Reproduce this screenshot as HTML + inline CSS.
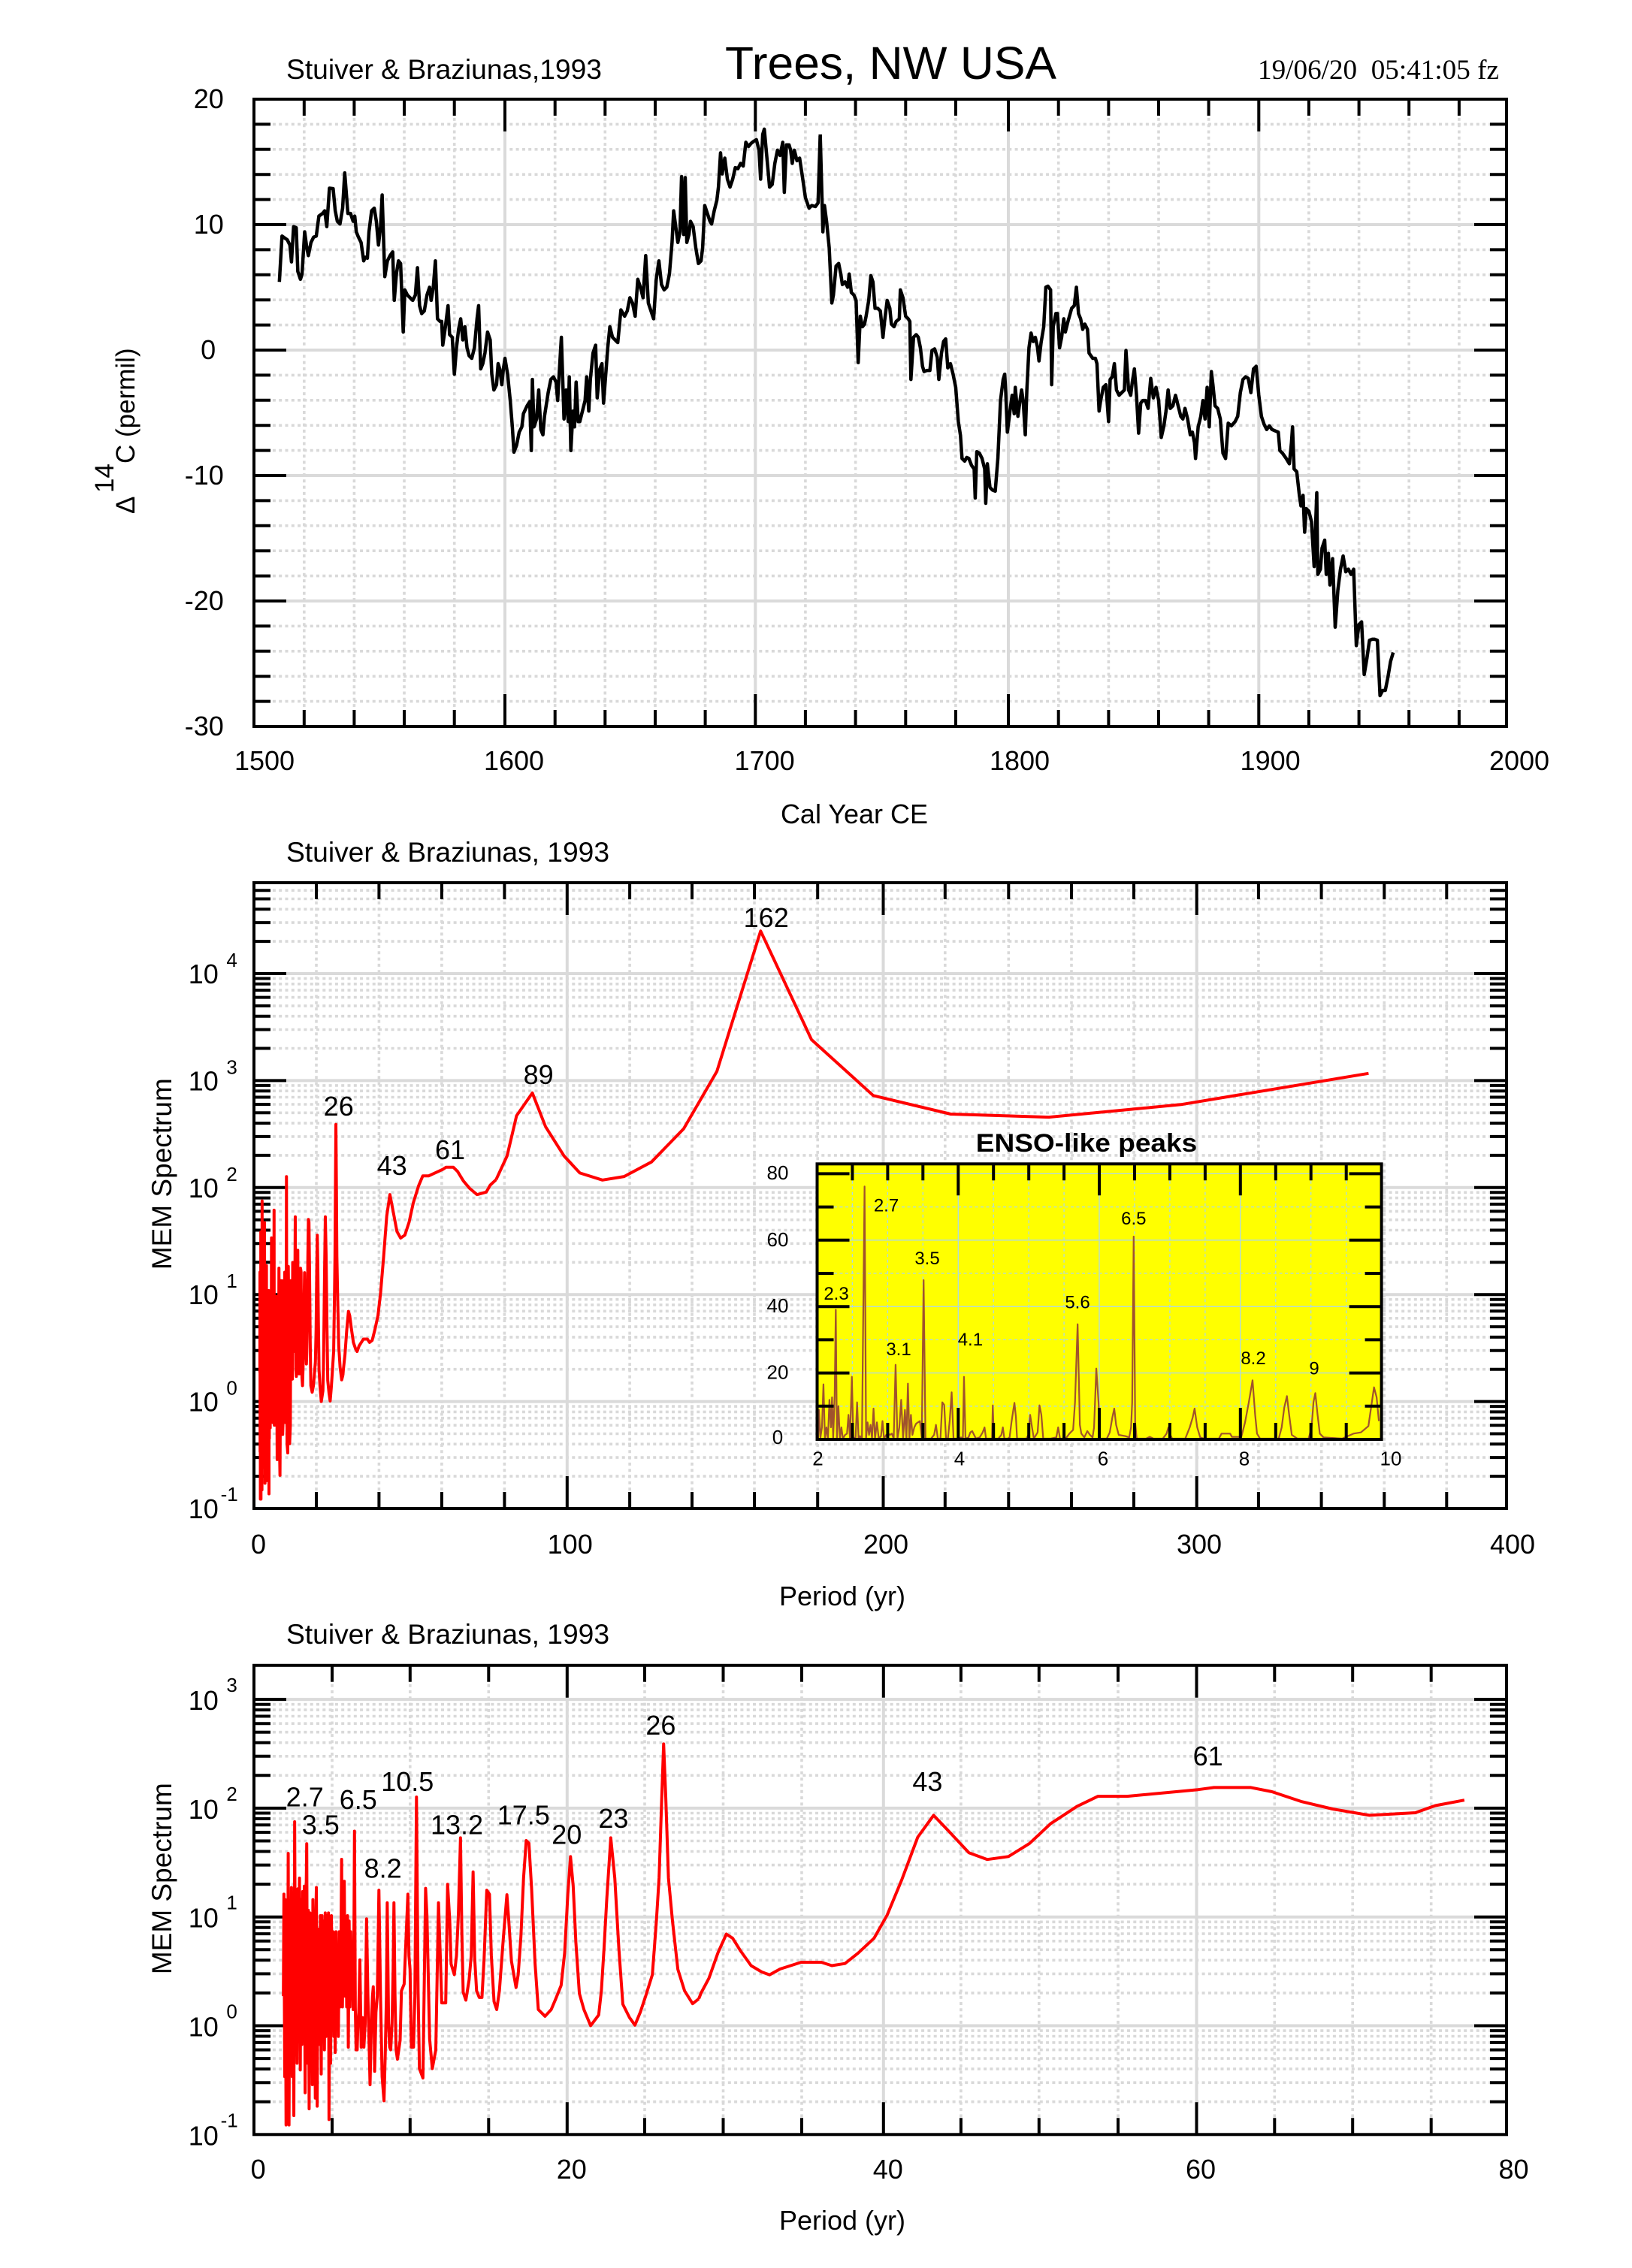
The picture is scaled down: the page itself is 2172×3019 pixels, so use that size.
<!DOCTYPE html>
<html><head><meta charset="utf-8"><style>html,body{margin:0;padding:0;background:#fff;overflow:hidden}svg{display:block}</style></head>
<body>
<svg xmlns="http://www.w3.org/2000/svg" width="2172" height="3019" viewBox="0 0 2172 3019" font-family="'Liberation Sans', Arial, sans-serif">
<rect width="2172" height="3019" fill="#fff"/>
<defs>
<clipPath id="cM"><rect x="338" y="1175" width="1667" height="833"/></clipPath>
<clipPath id="cB"><rect x="338" y="2216.8" width="1667" height="624.5"/></clipPath>
<clipPath id="cI"><rect x="1087.5" y="1549.3" width="751.1" height="366.7"/></clipPath>
</defs>

<!-- ================= TOP PANEL ================= -->
<g fill="none" stroke="#d9d9d9" stroke-width="3.6" stroke-dasharray="4 4.3">
<path d="M404.8 132V967M471.4 132V967M538 132V967M604.7 132V967M738.7 132V967M805.3 132V967M872 132V967M938.6 132V967M1071.9 132V967M1138.6 132V967M1205.3 132V967M1271.9 132V967M1408.7 132V967M1475.4 132V967M1542 132V967M1608.6 132V967M1741.9 132V967M1808.6 132V967M1875.2 132V967M1941.9 132V967"/>
<path d="M338 165.4H2005M338 198.8H2005M338 232.2H2005M338 265.6H2005M338 332.4H2005M338 365.8H2005M338 399.2H2005M338 432.6H2005M338 499.4H2005M338 532.8H2005M338 566.2H2005M338 599.6H2005M338 666.4H2005M338 699.8H2005M338 733.2H2005M338 766.6H2005M338 833.4H2005M338 866.8H2005M338 900.2H2005M338 933.6H2005"/>
</g>
<path fill="none" stroke="#dadada" stroke-width="4" d="M672 132V967M1005.3 132V967M1342 132V967M1675.3 132V967M338 299H2005M338 466H2005M338 633H2005M338 800H2005"/>
<path fill="none" stroke="#000" stroke-width="4" d="M404.8 967v-22M471.4 967v-22M538 967v-22M604.7 967v-22M738.7 967v-22M805.3 967v-22M872 967v-22M938.6 967v-22M1071.9 967v-22M1138.6 967v-22M1205.3 967v-22M1271.9 967v-22M1408.7 967v-22M1475.4 967v-22M1542 967v-22M1608.6 967v-22M1741.9 967v-22M1808.6 967v-22M1875.2 967v-22M1941.9 967v-22
M404.8 132v22M471.4 132v22M538 132v22M604.7 132v22M738.7 132v22M805.3 132v22M872 132v22M938.6 132v22M1071.9 132v22M1138.6 132v22M1205.3 132v22M1271.9 132v22M1408.7 132v22M1475.4 132v22M1542 132v22M1608.6 132v22M1741.9 132v22M1808.6 132v22M1875.2 132v22M1941.9 132v22
M672 967v-43M1005.3 967v-43M1342 967v-43M1675.3 967v-43M672 132v43M1005.3 132v43M1342 132v43M1675.3 132v43
M338 299h43M338 466h43M338 633h43M338 800h43M2005 299h-43M2005 466h-43M2005 633h-43M2005 800h-43
M338 165.4h22M338 198.8h22M338 232.2h22M338 265.6h22M338 332.4h22M338 365.8h22M338 399.2h22M338 432.6h22M338 499.4h22M338 532.8h22M338 566.2h22M338 599.6h22M338 666.4h22M338 699.8h22M338 733.2h22M338 766.6h22M338 833.4h22M338 866.8h22M338 900.2h22M338 933.6h22
M2005 165.4h-22M2005 198.8h-22M2005 232.2h-22M2005 265.6h-22M2005 332.4h-22M2005 365.8h-22M2005 399.2h-22M2005 432.6h-22M2005 499.4h-22M2005 532.8h-22M2005 566.2h-22M2005 599.6h-22M2005 666.4h-22M2005 699.8h-22M2005 733.2h-22M2005 766.6h-22M2005 833.4h-22M2005 866.8h-22M2005 900.2h-22M2005 933.6h-22"/>

<!-- top curve -->
<g fill="none" stroke="#000" stroke-width="4.5" stroke-linejoin="round">
<polyline vector-effect="non-scaling-stroke" transform="scale(0.70151)" points="530,535 535,448 545,455 550,465 553,497 557,430 562,432 565,515 570,530 573,520 578,440 582,470 585,485 590,460 595,450 600,448 605,410 612,405 616,400 620,430 625,357 632,358 636,400 640,420 645,425 650,395 654,328 660,405 665,405 670,420 673,410 676,440 680,450 685,460 690,495 693,488 697,490 700,440 705,400 710,395 714,420 718,465 722,430 725,370 730,525 735,495 740,485 745,478 748,570 752,520 756,495 760,500 765,630 768,550 773,560 778,565 783,570 788,560 792,508 796,580 800,595 805,590 810,560 815,545 818,570 822,545 826,495 830,605 835,610 838,610 840,655 845,620 850,580 853,635 858,640 862,710 866,660 870,625 874,605 878,645 882,620 886,660 890,675 895,680 900,660 905,605 908,580 912,700 916,690 920,670 925,630 930,645 933,710 937,740 942,730 945,690 948,700 952,730 955,700 958,680 963,710 968,760 972,810 975,858 980,845 985,820 990,810 993,785 1000,770 1005,762 1008,855 1010,720 1013,810 1018,795 1022,740 1026,815 1030,825 1033,790 1040,745 1045,720 1050,715 1055,725 1058,760 1062,690 1065,640 1070,795 1074,740 1078,800 1080,715 1083,855 1087,780 1090,810 1093,725 1097,800 1100,800 1105,780 1110,760 1113,715 1117,780 1120,720 1125,670 1130,655 1133,755 1138,700 1142,690 1145,765 1150,700 1153,660 1157,620 1162,640 1167,645 1172,650 1178,588 1185,600 1190,590 1195,565 1200,575 1205,600 1210,530 1215,545 1220,565 1225,485 1230,575 1235,590 1240,605 1245,530 1250,495 1255,540 1260,550 1265,545 1270,520 1275,460 1278,400 1282,430 1286,460 1290,440 1293,335 1297,445 1300,337 1303,460 1307,445 1310,420 1315,430 1320,470 1325,500 1330,495 1333,470 1337,390 1342,405 1347,420 1350,425 1355,400 1360,380 1363,355 1367,290 1370,330 1375,300 1380,340 1385,355 1390,340 1395,318 1400,320 1405,310 1410,315 1415,270 1420,278 1425,272 1430,268 1435,265 1440,285 1443,340 1447,255 1450,245 1455,300 1460,355 1465,350 1470,310 1475,285 1480,295 1485,270 1488,365 1492,275 1497,275 1500,285 1503,310 1507,285 1512,305 1517,300 1523,340 1528,375 1535,395 1540,390 1547,392 1552,385 1556,258"/>
<polyline vector-effect="non-scaling-stroke" transform="translate(1072 0) scale(0.70151)" points="28,255 33,440 36,390 40,420 45,470 50,575 53,560 58,505 63,500 67,520 70,540 75,535 80,545 83,520 87,555 92,560 96,570 100,688 104,600 108,620 112,615 115,600 120,570 124,523 128,535 132,585 137,585 142,590 147,640 150,610 155,570 160,585 163,615 168,620 172,610 178,605 180,550 185,565 190,600 195,605 198,610 200,720 205,640 210,635 214,640 218,660 222,695 225,705 230,703 236,703 240,665 245,662 250,678 253,720 258,670 262,648 266,643 270,698 275,690 280,710 285,735 290,800 294,826 297,870 302,875 306,868 310,870 315,883 320,890 322,945 325,857 330,860 335,870 340,890 342,955 345,880 350,925 355,930 360,932 365,870 370,760 375,720 378,710 380,745 383,820 388,780 392,750 396,785 398,735 403,790 407,760 410,740 413,760 417,825 420,740 424,660 428,632 432,648 436,640 440,658 443,685 447,650 452,620 456,545 460,543 465,550 467,730 470,620 475,595 478,595 482,660 486,640 490,605 493,630 498,610 505,585 510,580 514,545 518,595 522,605 526,625 530,615 535,625 538,670 545,680 550,680 553,690 557,780 560,760 565,735 570,730 575,800 578,720 582,715 586,690 590,740 595,750 600,745 605,740 608,665 613,740 617,750 620,725 624,700 628,750 632,822 636,765 640,760 645,760 650,775 655,718 660,755 665,735 670,760 675,830 680,808 684,780 688,740 692,775 697,770 702,750 707,770 712,790 716,795 720,775 725,795 730,825 734,820 738,840 740,870 745,810 750,790 754,760 758,795 762,735 766,810 770,705 773,730 777,770 782,775 787,795 792,860 797,870 802,803 808,808 815,800 820,790 825,745 830,720 835,715 840,718 845,745 850,700 855,695 860,750 865,790 870,805 875,815 880,808 885,815 892,818 897,820 900,855 905,860 912,870 918,880 922,840 924,810 927,890 932,895 937,940 940,960 944,940 947,1010 950,965 955,970 960,990 965,1075 970,935 972,1090 977,1080 980,1040 985,1025 988,1090 992,1050 995,1110 1000,1060 1005,1190 1010,1120 1015,1080 1020,1055 1025,1085 1030,1080 1035,1090 1040,1080 1045,1225 1050,1185 1055,1180 1060,1280 1065,1250 1070,1215 1075,1213 1080,1213 1085,1215 1090,1320 1095,1310 1100,1310 1105,1285 1110,1255 1115,1238"/>
</g>
<rect x="338" y="132" width="1667" height="835" fill="none" stroke="#000" stroke-width="4"/>

<g font-size="36" fill="#000">
<text x="381" y="105" font-size="37" textLength="420" lengthAdjust="spacingAndGlyphs">Stuiver &amp; Braziunas,1993</text>
<text x="965" y="105" font-size="61" textLength="441" lengthAdjust="spacingAndGlyphs">Trees, NW USA</text>
<text x="1674" y="105" font-size="37" font-family="'Liberation Serif', serif" xml:space="preserve" textLength="321" lengthAdjust="spacingAndGlyphs">19/06/20  05:41:05 fz</text>
<g text-anchor="middle">
<text x="277.8" y="144">20</text><text x="277.8" y="311">10</text><text x="277.1" y="478">0</text>
<text x="271.8" y="645">-10</text><text x="271.8" y="812">-20</text><text x="271.8" y="979">-30</text>
<text x="352" y="1025">1500</text><text x="684" y="1025">1600</text><text x="1017.6" y="1025">1700</text>
<text x="1357" y="1025">1800</text><text x="1690.6" y="1025">1900</text><text x="2022" y="1025">2000</text>
<text x="1137" y="1096">Cal Year CE</text>
</g>
<text font-size="35" transform="translate(179 684) rotate(-90)">Δ</text>
<text font-size="35" transform="translate(151 656) rotate(-90)">14</text>
<text font-size="35" transform="translate(179 617) rotate(-90)">C (permil)</text>
</g>

<!-- ================= MIDDLE PANEL ================= -->
<g fill="none" stroke="#d9d9d9" stroke-width="3.6" stroke-dasharray="4 4.3">
<path d="M421 1175V2008M504.4 1175V2008M587.9 1175V2008M671.4 1175V2008M838.1 1175V2008M921 1175V2008M1004 1175V2008M1088.2 1175V2008M1257.8 1175V2008M1342.3 1175V2008M1426 1175V2008M1509 1175V2008M1674.9 1175V2008M1758.6 1175V2008M1842.3 1175V2008M1925.3 1175V2008"/>
<path d="M338 1965.1H2005M338 1940.1H2005M338 1922.3H2005M338 1908.5H2005M338 1897.2H2005M338 1887.7H2005M338 1879.4H2005M338 1872.1H2005M338 1822.7H2005M338 1797.7H2005M338 1779.9H2005M338 1766.1H2005M338 1754.8H2005M338 1745.3H2005M338 1737H2005M338 1729.7H2005M338 1680.3H2005M338 1655.3H2005M338 1637.5H2005M338 1623.7H2005M338 1612.4H2005M338 1602.9H2005M338 1594.6H2005M338 1587.3H2005M338 1537.9H2005M338 1512.9H2005M338 1495.1H2005M338 1481.3H2005M338 1470H2005M338 1460.5H2005M338 1452.2H2005M338 1444.9H2005M338 1395.5H2005M338 1370.5H2005M338 1352.7H2005M338 1338.9H2005M338 1327.6H2005M338 1318.1H2005M338 1309.8H2005M338 1302.5H2005M338 1253.1H2005M338 1228.1H2005M338 1210.3H2005M338 1196.5H2005M338 1185.2H2005"/>
</g>
<path fill="none" stroke="#dadada" stroke-width="4" d="M754.8 1175V2008M1175.5 1175V2008M1592.7 1175V2008M338 1865.6H2005M338 1723.2H2005M338 1580.8H2005M338 1438.4H2005M338 1296H2005"/>
<path fill="none" stroke="#000" stroke-width="4" d="M421 2008v-22M504.4 2008v-22M587.9 2008v-22M671.4 2008v-22M838.1 2008v-22M921 2008v-22M1004 2008v-22M1088.2 2008v-22M1257.8 2008v-22M1342.3 2008v-22M1426 2008v-22M1509 2008v-22M1674.9 2008v-22M1758.6 2008v-22M1842.3 2008v-22M1925.3 2008v-22
M421 1175v22M504.4 1175v22M587.9 1175v22M671.4 1175v22M838.1 1175v22M921 1175v22M1004 1175v22M1088.2 1175v22M1257.8 1175v22M1342.3 1175v22M1426 1175v22M1509 1175v22M1674.9 1175v22M1758.6 1175v22M1842.3 1175v22M1925.3 1175v22
M754.8 2008v-43M1175.5 2008v-43M1592.7 2008v-43M754.8 1175v43M1175.5 1175v43M1592.7 1175v43
M338 1865.6h43M338 1723.2h43M338 1580.8h43M338 1438.4h43M338 1296h43M2005 1865.6h-43M2005 1723.2h-43M2005 1580.8h-43M2005 1438.4h-43M2005 1296h-43
M338 1965.1h22M338 1940.1h22M338 1922.3h22M338 1908.5h22M338 1897.2h22M338 1887.7h22M338 1879.4h22M338 1872.1h22M338 1822.7h22M338 1797.7h22M338 1779.9h22M338 1766.1h22M338 1754.8h22M338 1745.3h22M338 1737h22M338 1729.7h22M338 1680.3h22M338 1655.3h22M338 1637.5h22M338 1623.7h22M338 1612.4h22M338 1602.9h22M338 1594.6h22M338 1587.3h22M338 1537.9h22M338 1512.9h22M338 1495.1h22M338 1481.3h22M338 1470h22M338 1460.5h22M338 1452.2h22M338 1444.9h22M338 1395.5h22M338 1370.5h22M338 1352.7h22M338 1338.9h22M338 1327.6h22M338 1318.1h22M338 1309.8h22M338 1302.5h22M338 1253.1h22M338 1228.1h22M338 1210.3h22M338 1196.5h22M338 1185.2h22
M2005 1965.1h-22M2005 1940.1h-22M2005 1922.3h-22M2005 1908.5h-22M2005 1897.2h-22M2005 1887.7h-22M2005 1879.4h-22M2005 1872.1h-22M2005 1822.7h-22M2005 1797.7h-22M2005 1779.9h-22M2005 1766.1h-22M2005 1754.8h-22M2005 1745.3h-22M2005 1737h-22M2005 1729.7h-22M2005 1680.3h-22M2005 1655.3h-22M2005 1637.5h-22M2005 1623.7h-22M2005 1612.4h-22M2005 1602.9h-22M2005 1594.6h-22M2005 1587.3h-22M2005 1537.9h-22M2005 1512.9h-22M2005 1495.1h-22M2005 1481.3h-22M2005 1470h-22M2005 1460.5h-22M2005 1452.2h-22M2005 1444.9h-22M2005 1395.5h-22M2005 1370.5h-22M2005 1352.7h-22M2005 1338.9h-22M2005 1327.6h-22M2005 1318.1h-22M2005 1309.8h-22M2005 1302.5h-22M2005 1253.1h-22M2005 1228.1h-22M2005 1210.3h-22M2005 1196.5h-22M2005 1185.2h-22"/>

<!-- middle spectrum curve -->
<g clip-path="url(#cM)" fill="none" stroke="#ff0000" stroke-width="4" stroke-linejoin="round">
<g transform="matrix(0.2 0 0 0.98343 270.4 -786.2)">
<polyline vector-effect="non-scaling-stroke" transform="translate(370 2300) scale(0.357143)" points="20,1000 22,620 25,1300 27,640 30,1480 33,720 36,1200 38,468 41,1480 44,700 47,1100 50,595 53,1300 56,660 59,1445 62,350 65,1050 68,720 71,1250 74,600 77,1100 80,560 83,1275 86,640 89,1180 92,610 95,1000 98,590 101,1360 104,700 107,432 110,1250 113,680 116,1420 119,690 122,1100 125,700 128,1330 130,640 133,1150 136,720 139,1380 141,700 143,595 146,1410 149,750 152,1000 155,1180 158,700 161,1290 164,700 167,1100 170,720 173,1200 176,690 179,1150 182,700 185,1050 188,690 190,1460 193,720 196,1250 199,700 202,1080 205,760 208,1150 211,880 213,1210 216,760 219,1040 222,850 225,1150 228,760 231,1040 234,880 237,490 240,1040 243,800 247,572 250,1000 253,720 256,1040 259,700 262,1190 265,720 268,1040 271,760 274,1000 277,830 280,1050 283,760 285,385 288,1040 291,1200 295,1200 298,1100 301,1060 305,865 310,1190 315,1080 320,1190 325,1100 330,712 335,1000 340,1200 343,1330 348,1100 352,1000 355,965 358,1080 360,1280 365,1060 370,1000 376,605 382,1000 388,1300 395,1390 400,1200 404,1000 407,652 412,1100 416,1190 420,1200 425,1100 429,900 432,652 436,1000 440,1200 445,1235 455,1165 460,980 470,955 484,620 488,850 492,900 497,1190 505,1190 510,1000 516,258 522,980 527,1270 540,1305 550,598 555,700 565,1160 575,1270 588,1200 598,652 605,860 610,1025 625,1025 632,583 640,720 645,880 657,920 665,850 672,700 680,410 685,760 690,985 700,1015 712,940 720,850 727,537 733,860 740,980 750,1005 760,1005 768,860 778,605 788,620 795,850 805,1020 815,1050 825,980 840,780 853,622 860,720 870,870 887,968 895,920 905,780 915,560 925,420 935,430 945,600 958,880 970,1050 995,1075 1018,1050 1035,1010 1055,960 1068,840 1080,620 1090,480 1100,590 1110,800 1123,990 1140,1050 1165,1110 1195,1070 1205,980 1215,820 1225,640 1240,410 1255,560 1270,820 1285,1030 1310,1080 1330,1108 1350,1060 1370,1000 1395,920 1410,720 1420,560 1430,260 1437,60 1445,260 1455,560 1470,720 1490,900 1515,980 1545,1028 1568,1010"/>
<polyline vector-effect="non-scaling-stroke" points="930,2660.7 933,2653 943.5,2633.3 955.4,2599.7 966.7,2574.5 975.1,2580.1 985.6,2596.9 999.6,2616.5 1013.7,2624.9 1024.2,2628.8 1038.2,2621 1052.3,2616.5 1066.3,2612 1083.8,2612 1093,2612 1107.1,2616.5 1124.6,2613.7 1142.2,2599.7 1163.2,2580.1 1180.7,2549.2 1200.4,2501.6 1221.4,2445.5 1242.5,2416.4 1264.9,2439.9 1289.5,2466.3 1314,2475.2 1342.1,2471.3 1370.1,2453.9 1398.2,2427.6 1433.3,2404.6 1461.3,2391.1 1499.9,2391.1 1594.6,2382.2 1615.7,2379.4 1664.8,2379.4 1692.8,2385 1731.4,2397.9 1773.5,2408 1822.6,2416.4 1883.6,2413 1910.3,2403.5 1948.9,2396.2"/>
</g>
<polyline points="660.2,1570.3 674.9,1538.6 687.5,1485.1 708.5,1454.9 726.1,1499.8 750.6,1538.6 771.7,1561.4 801.8,1570.8 830.6,1566.1 867.1,1546.7 909.9,1502.5 954.1,1426.1 1012.3,1239.3 1080,1383.9 1162.2,1458.3 1265.3,1483 1396.1,1487.1 1571.7,1470.3 1821.4,1428.8"/>
</g>

<!-- inset -->
<rect x="1087.5" y="1549.3" width="751.1" height="366.7" fill="#ffff00"/>
<g fill="none" stroke="#add8e6" stroke-width="1.3">
<path stroke-dasharray="4 3.5" d="M1134.4 1549.3V1916M1181.4 1549.3V1916M1228.3 1549.3V1916M1322.2 1549.3V1916M1369.2 1549.3V1916M1416.1 1549.3V1916M1510 1549.3V1916M1556.9 1549.3V1916M1603.9 1549.3V1916M1697.8 1549.3V1916M1744.7 1549.3V1916M1791.7 1549.3V1916M1087.5 1871.8H1838.6M1087.5 1783.4H1838.6M1087.5 1695H1838.6M1087.5 1606.6H1838.6"/>
<path d="M1275.3 1549.3V1916M1463 1549.3V1916M1650.8 1549.3V1916M1087.5 1827.6H1838.6M1087.5 1739.2H1838.6M1087.5 1650.8H1838.6M1087.5 1562.4H1838.6"/>
</g>
<g clip-path="url(#cI)" fill="none" stroke="#a0522d" stroke-width="2.2" stroke-linejoin="round">
<polyline vector-effect="non-scaling-stroke" transform="translate(1080 1500) scale(0.49744 0.33333)" points="18,1245 20,1130 24,1240 28,1200 32,1028 36,1245 40,1200 44,1245 48,1090 52,1200 55,1080 58,1245 62,1075 65,730 68,1245 72,1115 76,1245 80,1200 84,1245 90,1230 95,1225 99,1150 103,1245 108,998 112,1245 118,1240 122,1100 126,1245 130,1235 135,1245 142,238 146,1245 150,1180 154,1230 158,1190 162,1245 166,1125 170,1245 175,1180 180,1245 186,1235 190,1175 194,1245 200,1230 205,1225 210,1230 215,1225 220,1245 225,950 230,1245 235,1200 240,1090 245,1245 250,1130 254,1245 258,1025 262,1245 266,1150 270,1230 275,1200 280,1185 285,1180 290,1175 295,1240 300,612 305,1245 310,1245 320,1245 328,1230 333,1190 338,1245 345,1245 350,1100 355,1110 360,1245 365,1245 370,1170 375,1060 380,1245 395,1245 400,1240 405,1245 408,998 412,1245 420,1240 425,1220 430,1215 435,1230 440,1245 450,1240 458,1220 463,1200 467,1245 475,1245 483,1245 485,1112 488,1245 500,1245 508,1230 512,1200 516,1245 525,1245 530,1240 535,1180 540,1130 543,1102 547,1160 550,1245 560,1245 575,1245 580,1230 585,1150 590,1200 595,1245 605,1220 610,1112 615,1150 620,1245 640,1245 655,1240 660,1200 665,1245 680,1245 690,1225 700,1210 705,1100 712,788 718,1190 722,1225 730,1240 738,1215 745,1230 752,1240 756,1200 762,965 768,1100 772,1245 790,1245 798,1220 805,1160 810,1125 815,1190 822,1230 840,1235 850,1240 855,1200 858,1100 862,438 866,1180 870,1245 880,1245 895,1245 905,1238 915,1245 940,1245 950,1225 955,1200 960,1230 965,1245 1000,1245 1012,1200 1020,1160 1025,1125 1032,1200 1040,1240 1050,1245 1090,1245 1097,1225 1120,1225 1125,1238 1150,1238 1160,1180 1170,1100 1180,1012 1187,1150 1192,1225 1200,1245 1250,1245 1258,1200 1265,1120 1272,1075 1278,1150 1285,1230 1300,1245 1330,1245 1338,1200 1343,1100 1348,1063 1354,1150 1360,1225 1370,1240 1420,1245 1435,1235 1450,1225 1470,1220 1490,1195 1505,1040 1512,1080 1518,1175"/>
</g>
<path fill="none" stroke="#000" stroke-width="4" d="M1134.4 1916v-22M1181.4 1916v-22M1228.3 1916v-22M1322.2 1916v-22M1369.2 1916v-22M1416.1 1916v-22M1510 1916v-22M1556.9 1916v-22M1603.9 1916v-22M1697.8 1916v-22M1744.7 1916v-22M1791.7 1916v-22
M1134.4 1549.3v22M1181.4 1549.3v22M1228.3 1549.3v22M1322.2 1549.3v22M1369.2 1549.3v22M1416.1 1549.3v22M1510 1549.3v22M1556.9 1549.3v22M1603.9 1549.3v22M1697.8 1549.3v22M1744.7 1549.3v22M1791.7 1549.3v22
M1275.3 1916v-42M1463 1916v-42M1650.8 1916v-42M1275.3 1549.3v42M1463 1549.3v42M1650.8 1549.3v42
M1087.5 1827.6h43M1087.5 1739.2h43M1087.5 1650.8h43M1087.5 1562.4h43M1838.6 1827.6h-43M1838.6 1739.2h-43M1838.6 1650.8h-43M1838.6 1562.4h-43
M1087.5 1871.8h22M1087.5 1783.4h22M1087.5 1695h22M1087.5 1606.6h22M1838.6 1871.8h-22M1838.6 1783.4h-22M1838.6 1695h-22M1838.6 1606.6h-22"/>
<rect x="1087.5" y="1549.3" width="751.1" height="366.7" fill="none" stroke="#000" stroke-width="4"/>

<rect x="338" y="1175" width="1667" height="833" fill="none" stroke="#000" stroke-width="4"/>

<g font-size="36" fill="#000">
<text x="381" y="1147" font-size="37" textLength="430" lengthAdjust="spacingAndGlyphs">Stuiver &amp; Braziunas, 1993</text>
<g text-anchor="middle">
<text x="270.8" y="2021">10</text><text x="305.2" y="1998" font-size="26">-1</text>
<text x="270.8" y="1878.6">10</text><text x="308.6" y="1856.6" font-size="26">0</text>
<text x="270.8" y="1736.2">10</text><text x="308.6" y="1714.2" font-size="26">1</text>
<text x="270.8" y="1593.8">10</text><text x="308.6" y="1571.8" font-size="26">2</text>
<text x="270.8" y="1451.4">10</text><text x="308.6" y="1429.4" font-size="26">3</text>
<text x="270.8" y="1309">10</text><text x="308.6" y="1287" font-size="26">4</text>
<text x="344" y="2068">0</text><text x="758.7" y="2068">100</text><text x="1179" y="2068">200</text><text x="1596" y="2068">300</text><text x="2013" y="2068">400</text>
<text x="1121" y="2137">Period (yr)</text>
<text font-size="37" transform="translate(228 1562.7) rotate(-90)">MEM Spectrum</text>
<text x="1019.7" y="1234">162</text><text x="716.6" y="1442.8">89</text><text x="450.7" y="1485">26</text><text x="521.6" y="1564">43</text><text x="599" y="1543">61</text>
<text x="1446" y="1533" font-size="34" font-weight="bold" textLength="294.5" lengthAdjust="spacingAndGlyphs">ENSO-like peaks</text>
<g font-size="26">
<text x="1035" y="1570">80</text><text x="1035" y="1659">60</text><text x="1035" y="1747">40</text><text x="1035" y="1835.6">20</text><text x="1035" y="1922">0</text>
<text x="1088.5" y="1950.5">2</text><text x="1277" y="1950.5">4</text><text x="1468" y="1950.5">6</text><text x="1656" y="1950.5">8</text><text x="1851" y="1950.5">10</text>
</g>
<g font-size="24">
<text x="1113" y="1730">2.3</text><text x="1179.5" y="1612.7">2.7</text><text x="1234" y="1683">3.5</text><text x="1196" y="1804">3.1</text><text x="1291.4" y="1791">4.1</text><text x="1434" y="1741.7">5.6</text><text x="1508.8" y="1630">6.5</text><text x="1668" y="1816">8.2</text><text x="1749" y="1829.3">9</text>
</g>
</g>
</g>

<!-- ================= BOTTOM PANEL ================= -->
<g fill="none" stroke="#d9d9d9" stroke-width="3.6" stroke-dasharray="4 4.3">
<path d="M442 2216.8V2841.3M545.8 2216.8V2841.3M650.3 2216.8V2841.3M858 2216.8V2841.3M962.5 2216.8V2841.3M1067 2216.8V2841.3M1278.9 2216.8V2841.3M1382.8 2216.8V2841.3M1488 2216.8V2841.3M1696.3 2216.8V2841.3M1800.2 2216.8V2841.3M1904.7 2216.8V2841.3"/>
<path d="M338 2797.7H2005M338 2772.2H2005M338 2754.1H2005M338 2740.1H2005M338 2728.6H2005M338 2718.9H2005M338 2710.5H2005M338 2703.1H2005M338 2652.9H2005M338 2627.4H2005M338 2609.3H2005M338 2595.3H2005M338 2583.8H2005M338 2574.1H2005M338 2565.7H2005M338 2558.3H2005M338 2508.1H2005M338 2482.6H2005M338 2464.5H2005M338 2450.5H2005M338 2439H2005M338 2429.3H2005M338 2420.9H2005M338 2413.5H2005M338 2363.3H2005M338 2337.8H2005M338 2319.7H2005M338 2305.7H2005M338 2294.2H2005M338 2284.5H2005M338 2276.1H2005M338 2268.7H2005"/>
</g>
<path fill="none" stroke="#dadada" stroke-width="4" d="M754.8 2216.8V2841.3M1175.8 2216.8V2841.3M1592.5 2216.8V2841.3M338 2696.5H2005M338 2551.7H2005M338 2406.9H2005M338 2262.1H2005"/>
<path fill="none" stroke="#000" stroke-width="4" d="M442 2841.3v-22M545.8 2841.3v-22M650.3 2841.3v-22M858 2841.3v-22M962.5 2841.3v-22M1067 2841.3v-22M1278.9 2841.3v-22M1382.8 2841.3v-22M1488 2841.3v-22M1696.3 2841.3v-22M1800.2 2841.3v-22M1904.7 2841.3v-22
M442 2216.8v22M545.8 2216.8v22M650.3 2216.8v22M858 2216.8v22M962.5 2216.8v22M1067 2216.8v22M1278.9 2216.8v22M1382.8 2216.8v22M1488 2216.8v22M1696.3 2216.8v22M1800.2 2216.8v22M1904.7 2216.8v22
M754.8 2841.3v-43M1175.8 2841.3v-43M1592.5 2841.3v-43M754.8 2216.8v43M1175.8 2216.8v43M1592.5 2216.8v43
M338 2696.5h43M338 2551.7h43M338 2406.9h43M338 2262.1h43M2005 2696.5h-43M2005 2551.7h-43M2005 2406.9h-43M2005 2262.1h-43
M338 2797.7h22M338 2772.2h22M338 2754.1h22M338 2740.1h22M338 2728.6h22M338 2718.9h22M338 2710.5h22M338 2703.1h22M338 2652.9h22M338 2627.4h22M338 2609.3h22M338 2595.3h22M338 2583.8h22M338 2574.1h22M338 2565.7h22M338 2558.3h22M338 2508.1h22M338 2482.6h22M338 2464.5h22M338 2450.5h22M338 2439h22M338 2429.3h22M338 2420.9h22M338 2413.5h22M338 2363.3h22M338 2337.8h22M338 2319.7h22M338 2305.7h22M338 2294.2h22M338 2284.5h22M338 2276.1h22M338 2268.7h22
M2005 2797.7h-22M2005 2772.2h-22M2005 2754.1h-22M2005 2740.1h-22M2005 2728.6h-22M2005 2718.9h-22M2005 2710.5h-22M2005 2703.1h-22M2005 2652.9h-22M2005 2627.4h-22M2005 2609.3h-22M2005 2595.3h-22M2005 2583.8h-22M2005 2574.1h-22M2005 2565.7h-22M2005 2558.3h-22M2005 2508.1h-22M2005 2482.6h-22M2005 2464.5h-22M2005 2450.5h-22M2005 2439h-22M2005 2429.3h-22M2005 2420.9h-22M2005 2413.5h-22M2005 2363.3h-22M2005 2337.8h-22M2005 2319.7h-22M2005 2305.7h-22M2005 2294.2h-22M2005 2284.5h-22M2005 2276.1h-22M2005 2268.7h-22"/>

<g clip-path="url(#cB)" fill="none" stroke="#ff0000" stroke-width="4" stroke-linejoin="round">
<polyline vector-effect="non-scaling-stroke" transform="translate(370 2300) scale(0.357143)" points="20,1000 22,620 25,1300 27,640 30,1480 33,720 36,1200 38,468 41,1480 44,700 47,1100 50,595 53,1300 56,660 59,1445 62,350 65,1050 68,720 71,1250 74,600 77,1100 80,560 83,1275 86,640 89,1180 92,610 95,1000 98,590 101,1360 104,700 107,432 110,1250 113,680 116,1420 119,690 122,1100 125,700 128,1330 130,640 133,1150 136,720 139,1380 141,700 143,595 146,1410 149,750 152,1000 155,1180 158,700 161,1290 164,700 167,1100 170,720 173,1200 176,690 179,1150 182,700 185,1050 188,690 190,1460 193,720 196,1250 199,700 202,1080 205,760 208,1150 211,880 213,1210 216,760 219,1040 222,850 225,1150 228,760 231,1040 234,880 237,490 240,1040 243,800 247,572 250,1000 253,720 256,1040 259,700 262,1190 265,720 268,1040 271,760 274,1000 277,830 280,1050 283,760 285,385 288,1040 291,1200 295,1200 298,1100 301,1060 305,865 310,1190 315,1080 320,1190 325,1100 330,712 335,1000 340,1200 343,1330 348,1100 352,1000 355,965 358,1080 360,1280 365,1060 370,1000 376,605 382,1000 388,1300 395,1390 400,1200 404,1000 407,652 412,1100 416,1190 420,1200 425,1100 429,900 432,652 436,1000 440,1200 445,1235 455,1165 460,980 470,955 484,620 488,850 492,900 497,1190 505,1190 510,1000 516,258 522,980 527,1270 540,1305 550,598 555,700 565,1160 575,1270 588,1200 598,652 605,860 610,1025 625,1025 632,583 640,720 645,880 657,920 665,850 672,700 680,410 685,760 690,985 700,1015 712,940 720,850 727,537 733,860 740,980 750,1005 760,1005 768,860 778,605 788,620 795,850 805,1020 815,1050 825,980 840,780 853,622 860,720 870,870 887,968 895,920 905,780 915,560 925,420 935,430 945,600 958,880 970,1050 995,1075 1018,1050 1035,1010 1055,960 1068,840 1080,620 1090,480 1100,590 1110,800 1123,990 1140,1050 1165,1110 1195,1070 1205,980 1215,820 1225,640 1240,410 1255,560 1270,820 1285,1030 1310,1080 1330,1108 1350,1060 1370,1000 1395,920 1410,720 1420,560 1430,260 1437,60 1445,260 1455,560 1470,720 1490,900 1515,980 1545,1028 1568,1010"/>
<polyline vector-effect="non-scaling-stroke" points="930,2660.7 933,2653 943.5,2633.3 955.4,2599.7 966.7,2574.5 975.1,2580.1 985.6,2596.9 999.6,2616.5 1013.7,2624.9 1024.2,2628.8 1038.2,2621 1052.3,2616.5 1066.3,2612 1083.8,2612 1093,2612 1107.1,2616.5 1124.6,2613.7 1142.2,2599.7 1163.2,2580.1 1180.7,2549.2 1200.4,2501.6 1221.4,2445.5 1242.5,2416.4 1264.9,2439.9 1289.5,2466.3 1314,2475.2 1342.1,2471.3 1370.1,2453.9 1398.2,2427.6 1433.3,2404.6 1461.3,2391.1 1499.9,2391.1 1594.6,2382.2 1615.7,2379.4 1664.8,2379.4 1692.8,2385 1731.4,2397.9 1773.5,2408 1822.6,2416.4 1883.6,2413 1910.3,2403.5 1948.9,2396.2"/>
</g>
<rect x="338" y="2216.8" width="1667" height="624.5" fill="none" stroke="#000" stroke-width="4"/>

<g font-size="36" fill="#000">
<text x="381" y="2188" font-size="37" textLength="430" lengthAdjust="spacingAndGlyphs">Stuiver &amp; Braziunas, 1993</text>
<g text-anchor="middle">
<text x="270.8" y="2855.3">10</text><text x="305.2" y="2831.3" font-size="26">-1</text>
<text x="270.8" y="2710.5">10</text><text x="308.6" y="2686.5" font-size="26">0</text>
<text x="270.8" y="2565.7">10</text><text x="308.6" y="2541.7" font-size="26">1</text>
<text x="270.8" y="2420.9">10</text><text x="308.6" y="2396.9" font-size="26">2</text>
<text x="270.8" y="2276.1">10</text><text x="308.6" y="2252.1" font-size="26">3</text>
<text x="343.6" y="2900">0</text><text x="760.8" y="2900">20</text><text x="1181.8" y="2900">40</text><text x="1598" y="2900">60</text><text x="2014.5" y="2900">80</text>
<text x="1121" y="2968">Period (yr)</text>
<text font-size="37" transform="translate(228 2500.7) rotate(-90)">MEM Spectrum</text>
<text x="405.7" y="2404.6">2.7</text><text x="426.8" y="2441.4">3.5</text><text x="476.8" y="2407.9">6.5</text>
<text x="542.3" y="2383.9">10.5</text><text x="509.6" y="2499.3">8.2</text><text x="608" y="2441.4">13.2</text>
<text x="696.8" y="2428.6">17.5</text><text x="754.3" y="2454.3">20</text><text x="816.4" y="2433.2">23</text>
<text x="879.4" y="2309">26</text><text x="1234.4" y="2384">43</text><text x="1607.6" y="2350">61</text>
</g>
</g>
</svg>
</body></html>
